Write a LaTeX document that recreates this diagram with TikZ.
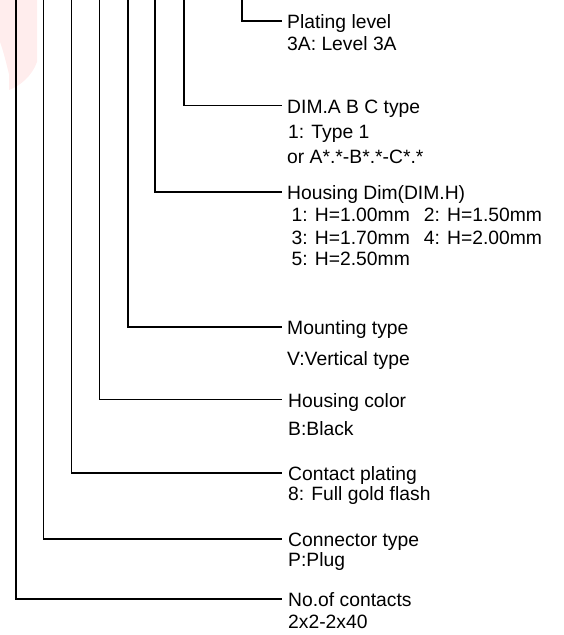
\documentclass[tikz,border=0pt]{standalone}
\usepackage{fontspec}
\setmainfont{Liberation Sans}
\usetikzlibrary{calc}
\begin{document}
\begin{tikzpicture}[x=1pt,y=-1pt,
  lead/.style={line width=1.3pt, black},
  txt/.style={anchor=base west, inner sep=0pt, font=\fontsize{19.3}{22}\selectfont}]
\useasboundingbox (0,0) rectangle (563,635);
% faint watermark (partly cut logo)
\fill[red!7] (0,0) -- (37,0) -- (37,62) .. controls (32,76) and (20,86) .. (9,90)
  -- (9,74) .. controls (6,62) and (3,50) .. (0,42) -- cycle;
% texts
\node[txt] (pl) at (287,28.5) {Plating level};
\node[txt] (pl1) at (287,50) {3A: Level 3A};
\node[txt] (dim) at (287,113) {DIM.A B C type};
\node[txt] (dim1) at (288,138.3) {1: Type 1};
\node[txt] (dim2) at (287,163.3) {or A*.*-B*.*-C*.*};
\node[txt] (hd) at (287,199.5) {Housing Dim(DIM.H)};
\node[txt] (hd1) at (291.5,221.7) {1: H=1.00mm\hspace{14pt}2: H=1.50mm};
\node[txt] (hd2) at (291.5,244.3) {3: H=1.70mm\hspace{14pt}4: H=2.00mm};
\node[txt] (hd3) at (291.5,265.7) {5: H=2.50mm};
\node[txt] (mt) at (287,334.5) {Mounting type};
\node[txt] (mt1) at (287,365) {V:Vertical type};
\node[txt] (hc) at (288,407) {Housing color};
\node[txt] (hc1) at (288,435) {B:Black};
\node[txt] (cp) at (288,480.5) {Contact plating};
\node[txt] (cp1) at (288,500) {8: Full gold flash};
\node[txt] (ct) at (288,546.5) {Connector type};
\node[txt] (ct1) at (288,566.7) {P:Plug};
\node[txt] (nc) at (288,606.5) {No.of contacts};
\node[txt] (nc1) at (288,628) {2x2-2x40};
% top ends of the leaders
\coordinate (t1) at (242,0);
\coordinate (t2) at (184,0);
\coordinate (t3) at (155,0);
\coordinate (t4) at (128,0);
\coordinate (t5) at (99.5,0);
\coordinate (t6) at (71.5,0);
\coordinate (t7) at (43.5,0);
\coordinate (t8) at (16,0);
% leaders
\draw[lead] (t1) |- ($(pl.base west)+(-5,-7.5)$);
\draw[lead] (t2) |- ($(dim.base west)+(-5,-7.5)$);
\draw[lead] (t3) |- ($(hd.base west)+(-5,-7.5)$);
\draw[lead] (t4) |- ($(mt.base west)+(-5,-7.5)$);
\draw[lead] (t5) |- ($(hc.base west)+(-6,-7.5)$);
\draw[lead] (t6) |- ($(cp.base west)+(-6,-7.5)$);
\draw[lead] (t7) |- ($(ct.base west)+(-6,-7.5)$);
\draw[lead] (t8) |- ($(nc.base west)+(-6,-7.5)$);
\end{tikzpicture}
\end{document}
